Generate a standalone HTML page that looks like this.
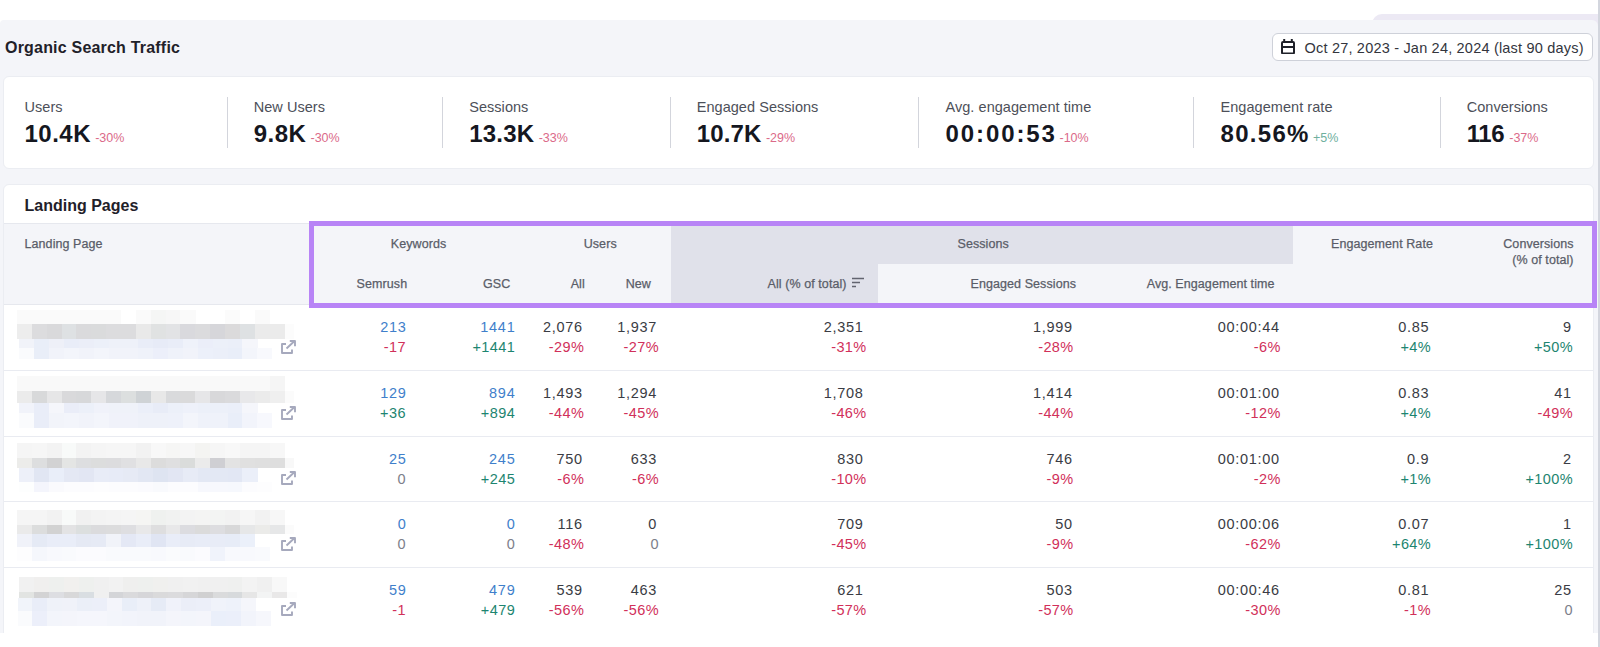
<!DOCTYPE html><html lang="en"><head><meta charset="utf-8"><title>Organic Search Traffic</title><style>
*{box-sizing:border-box;margin:0;padding:0}
html,body{width:1600px;height:647px;overflow:hidden;background:#fff}
body{position:relative;font-family:"Liberation Sans", sans-serif;color:#33353d;-webkit-font-smoothing:antialiased}
.abs{position:absolute;white-space:nowrap}
.panel{position:absolute;left:0;top:20px;width:1598px;height:613px;background:#f4f5f9;border-radius:4px 6px 0 0}
.tabband{position:absolute;left:1372px;top:14.4px;width:226px;height:14px;background:#ece9f4;border-radius:10px 0 0 0}
.strip{position:absolute;left:1598px;top:0;width:2px;height:647px;background:#d3d6de}
.title{left:5px;top:39px;font-size:16px;line-height:18px;font-weight:bold;color:#1f2129;letter-spacing:.2px}
.datebtn{position:absolute;left:1272px;top:33px;width:321px;height:28px;background:#fff;border:1px solid #ced1d9;border-radius:6px}
.datetxt{left:1304.5px;top:38px;font-size:14.5px;line-height:20px;color:#33353d;letter-spacing:.2px}
.card{position:absolute;left:3.4px;width:1591px;background:#fff;border:1px solid #ebedf2;border-radius:6px}
.kpi-l{font-size:14.5px;line-height:18px;color:#4d5059;letter-spacing:.05px}
.kpi-v{font-size:24px;line-height:28px;font-weight:bold;color:#15171f}
.kpi-d{font-size:12.5px;line-height:16px}
.red{color:#d1305a}
.kred{color:#db6a89}
.kgreen{color:#6fb09e}
.green{color:#1d8570}
.blue{color:#3f7fcb}
.vdiv{position:absolute;width:1px;top:97px;height:51px;background:#d3d5dc}
.h2{left:24.5px;top:197px;font-size:16px;line-height:18px;font-weight:bold;color:#1f2129}
.thead{position:absolute;left:4.4px;top:222.9px;width:1588.6px;height:81.8px;background:#f4f5f9;border-top:1px solid #e6e8ee;border-bottom:1px solid #e6e8ee}
.dark{position:absolute;background:#e0e1ea}
.th{font-size:12.5px;line-height:16px;color:#5a5d68;letter-spacing:.08px;-webkit-text-stroke:.25px #5a5d68}
.hl{position:absolute;left:308.9px;top:221.1px;width:1288.3px;height:87.2px;border:5px solid #b884f6;border-top-width:5.7px;border-bottom-width:5.3px}
.rowline{position:absolute;left:4.4px;width:1588.6px;height:1px;background:#e9ebf1}
.c{font-size:14.5px;line-height:20px;letter-spacing:.7px;text-align:right}
.num{color:#3a3c44}
.zero{color:#7d808b}
.px{position:absolute}
</style></head><body>
<div class="tabband"></div>
<div class="panel"></div>
<div class="strip"></div>
<div class="abs title">Organic Search Traffic</div>
<div class="datebtn"></div>
<svg class="px" style="left:1281px;top:38.5px" width="14" height="15.5" viewBox="0 0 14 15.5"><path d="M3.2 0v3M10.8 0v3" stroke="#1f2129" stroke-width="2" fill="none"/><rect x="1" y="3" width="12" height="11.5" rx="1" fill="none" stroke="#1f2129" stroke-width="2"/><path d="M1 8h12" stroke="#1f2129" stroke-width="2"/></svg>
<div class="abs datetxt">Oct 27, 2023 - Jan 24, 2024 (last 90 days)</div>
<div class="card" style="top:76px;height:93px"></div>
<div class="abs kpi-l" style="left:24.5px;top:97.5px">Users</div>
<div class="abs" style="left:24.5px;top:120.2px"><span class="kpi-v" style="letter-spacing:0.5px">10.4K</span><span class="kpi-d kred" style="margin-left:4.1px">-30%</span></div>
<div class="abs kpi-l" style="left:253.7px;top:97.5px">New Users</div>
<div class="abs" style="left:253.7px;top:120.2px"><span class="kpi-v" style="letter-spacing:0.5px">9.8K</span><span class="kpi-d kred" style="margin-left:4.1px">-30%</span></div>
<div class="abs kpi-l" style="left:469.2px;top:97.5px">Sessions</div>
<div class="abs" style="left:469.2px;top:120.2px"><span class="kpi-v" style="letter-spacing:0.2px">13.3K</span><span class="kpi-d kred" style="margin-left:4.3999999999999995px">-33%</span></div>
<div class="abs kpi-l" style="left:696.7px;top:97.5px">Engaged Sessions</div>
<div class="abs" style="left:696.7px;top:120.2px"><span class="kpi-v" style="letter-spacing:0.15px">10.7K</span><span class="kpi-d kred" style="margin-left:4.449999999999999px">-29%</span></div>
<div class="abs kpi-l" style="left:945.5px;top:97.5px">Avg. engagement time</div>
<div class="abs" style="left:945.5px;top:120.2px"><span class="kpi-v" style="letter-spacing:1.9px">00:00:53</span><span class="kpi-d kred" style="margin-left:2.6999999999999997px">-10%</span></div>
<div class="abs kpi-l" style="left:1220.5px;top:97.5px">Engagement rate</div>
<div class="abs" style="left:1220.5px;top:120.2px"><span class="kpi-v" style="letter-spacing:1.3px">80.56%</span><span class="kpi-d kgreen" style="margin-left:3.3px">+5%</span></div>
<div class="abs kpi-l" style="left:1466.7px;top:97.5px">Conversions</div>
<div class="abs" style="left:1466.7px;top:120.2px"><span class="kpi-v" style="letter-spacing:-0.4px">116</span><span class="kpi-d kred" style="margin-left:5.0px">-37%</span></div>
<div class="vdiv" style="left:227.0px"></div>
<div class="vdiv" style="left:442.0px"></div>
<div class="vdiv" style="left:670.2px"></div>
<div class="vdiv" style="left:918.2px"></div>
<div class="vdiv" style="left:1193.2px"></div>
<div class="vdiv" style="left:1440.2px"></div>
<div class="card" style="top:183.8px;height:470px;border-radius:6px 6px 0 0"></div>
<div class="abs h2">Landing Pages</div>
<div class="thead"></div>
<div class="dark" style="left:671.3px;top:224.5px;width:622px;height:39.8px"></div>
<div class="dark" style="left:671.3px;top:264px;width:206.7px;height:40px"></div>
<div class="abs th" style="left:24.5px;top:236.29999999999998px">Landing Page</div>
<div class="abs th" style="left:390.8px;top:236.29999999999998px">Keywords</div>
<div class="abs th" style="left:583.7px;top:236.29999999999998px">Users</div>
<div class="abs th" style="left:957.5px;top:236.29999999999998px">Sessions</div>
<div class="abs th" style="left:1331px;top:236.29999999999998px">Engagement Rate</div>
<div class="abs th" style="right:26.40000000000009px;top:236.29999999999998px;text-align:right">Conversions<br>(% of total)</div>
<div class="abs th" style="left:356.6px;top:276.20000000000005px">Semrush</div>
<div class="abs th" style="left:483px;top:276.20000000000005px">GSC</div>
<div class="abs th" style="left:570.7px;top:276.20000000000005px">All</div>
<div class="abs th" style="left:625.7px;top:276.20000000000005px">New</div>
<div class="abs th" style="left:767.5px;top:276.20000000000005px">All (% of total)</div>
<div class="abs th" style="left:970.5px;top:276.20000000000005px">Engaged Sessions</div>
<div class="abs th" style="left:1146.7px;top:276.20000000000005px">Avg. Engagement time</div>
<svg class="px" style="left:852px;top:277.3px" width="12" height="11" viewBox="0 0 12 11"><path d="M0 1.5h12M0 5.5h8M0 9.5h4" stroke="#62646f" stroke-width="1.6" fill="none"/></svg>
<div class="hl"></div>
<div class="abs c blue" style="right:1193.5px;top:317.45px">213</div>
<div class="abs c red" style="right:1194.1px;top:337.45px;letter-spacing:.4px">-17</div>
<div class="abs c blue" style="right:1084.6px;top:317.45px">1441</div>
<div class="abs c green" style="right:1084.8999999999999px;top:337.45px;letter-spacing:.4px">+1441</div>
<div class="abs c num" style="right:1017.1999999999999px;top:317.45px">2,076</div>
<div class="abs c red" style="right:1015.8000000000001px;top:337.45px;letter-spacing:.4px">-29%</div>
<div class="abs c num" style="right:942.9px;top:317.45px">1,937</div>
<div class="abs c red" style="right:941.0px;top:337.45px;letter-spacing:.4px">-27%</div>
<div class="abs c num" style="right:736.5px;top:317.45px">2,351</div>
<div class="abs c red" style="right:733.4px;top:337.45px;letter-spacing:.4px">-31%</div>
<div class="abs c num" style="right:527.3px;top:317.45px">1,999</div>
<div class="abs c red" style="right:526.4px;top:337.45px;letter-spacing:.4px">-28%</div>
<div class="abs c num" style="right:320.3px;top:317.45px">00:00:44</div>
<div class="abs c red" style="right:319.30000000000007px;top:337.45px;letter-spacing:.4px">-6%</div>
<div class="abs c num" style="right:170.8px;top:317.45px">0.85</div>
<div class="abs c green" style="right:168.89999999999995px;top:337.45px;letter-spacing:.4px">+4%</div>
<div class="abs c num" style="right:28.3px;top:317.45px">9</div>
<div class="abs c green" style="right:27.000000000000092px;top:337.45px;letter-spacing:.4px">+50%</div>
<svg class="px" style="left:281px;top:340px" width="15" height="14" viewBox="0 0 15 14"><path d="M5 4H1v9h10V9.5" fill="none" stroke="#a6a9bd" stroke-width="1.9" stroke-linejoin="round"/><path d="M5.5 8.5L13 1.5M8.8 1H14v5.3" fill="none" stroke="#a6a9bd" stroke-width="1.9" stroke-linejoin="round"/></svg>
<div class="rowline" style="top:370.0px"></div>
<div class="abs c blue" style="right:1193.5px;top:383.05px">129</div>
<div class="abs c green" style="right:1194.1px;top:403.05px;letter-spacing:.4px">+36</div>
<div class="abs c blue" style="right:1084.6px;top:383.05px">894</div>
<div class="abs c green" style="right:1084.8999999999999px;top:403.05px;letter-spacing:.4px">+894</div>
<div class="abs c num" style="right:1017.1999999999999px;top:383.05px">1,493</div>
<div class="abs c red" style="right:1015.8000000000001px;top:403.05px;letter-spacing:.4px">-44%</div>
<div class="abs c num" style="right:942.9px;top:383.05px">1,294</div>
<div class="abs c red" style="right:941.0px;top:403.05px;letter-spacing:.4px">-45%</div>
<div class="abs c num" style="right:736.5px;top:383.05px">1,708</div>
<div class="abs c red" style="right:733.4px;top:403.05px;letter-spacing:.4px">-46%</div>
<div class="abs c num" style="right:527.3px;top:383.05px">1,414</div>
<div class="abs c red" style="right:526.4px;top:403.05px;letter-spacing:.4px">-44%</div>
<div class="abs c num" style="right:320.3px;top:383.05px">00:01:00</div>
<div class="abs c red" style="right:319.30000000000007px;top:403.05px;letter-spacing:.4px">-12%</div>
<div class="abs c num" style="right:170.8px;top:383.05px">0.83</div>
<div class="abs c green" style="right:168.89999999999995px;top:403.05px;letter-spacing:.4px">+4%</div>
<div class="abs c num" style="right:28.3px;top:383.05px">41</div>
<div class="abs c red" style="right:27.000000000000092px;top:403.05px;letter-spacing:.4px">-49%</div>
<svg class="px" style="left:281px;top:405.5px" width="15" height="14" viewBox="0 0 15 14"><path d="M5 4H1v9h10V9.5" fill="none" stroke="#a6a9bd" stroke-width="1.9" stroke-linejoin="round"/><path d="M5.5 8.5L13 1.5M8.8 1H14v5.3" fill="none" stroke="#a6a9bd" stroke-width="1.9" stroke-linejoin="round"/></svg>
<div class="rowline" style="top:435.7px"></div>
<div class="abs c blue" style="right:1193.5px;top:448.7px">25</div>
<div class="abs c zero" style="right:1194.1px;top:468.7px;letter-spacing:.4px">0</div>
<div class="abs c blue" style="right:1084.6px;top:448.7px">245</div>
<div class="abs c green" style="right:1084.8999999999999px;top:468.7px;letter-spacing:.4px">+245</div>
<div class="abs c num" style="right:1017.1999999999999px;top:448.7px">750</div>
<div class="abs c red" style="right:1015.8000000000001px;top:468.7px;letter-spacing:.4px">-6%</div>
<div class="abs c num" style="right:942.9px;top:448.7px">633</div>
<div class="abs c red" style="right:941.0px;top:468.7px;letter-spacing:.4px">-6%</div>
<div class="abs c num" style="right:736.5px;top:448.7px">830</div>
<div class="abs c red" style="right:733.4px;top:468.7px;letter-spacing:.4px">-10%</div>
<div class="abs c num" style="right:527.3px;top:448.7px">746</div>
<div class="abs c red" style="right:526.4px;top:468.7px;letter-spacing:.4px">-9%</div>
<div class="abs c num" style="right:320.3px;top:448.7px">00:01:00</div>
<div class="abs c red" style="right:319.30000000000007px;top:468.7px;letter-spacing:.4px">-2%</div>
<div class="abs c num" style="right:170.8px;top:448.7px">0.9</div>
<div class="abs c green" style="right:168.89999999999995px;top:468.7px;letter-spacing:.4px">+1%</div>
<div class="abs c num" style="right:28.3px;top:448.7px">2</div>
<div class="abs c green" style="right:27.000000000000092px;top:468.7px;letter-spacing:.4px">+100%</div>
<svg class="px" style="left:281px;top:471.2px" width="15" height="14" viewBox="0 0 15 14"><path d="M5 4H1v9h10V9.5" fill="none" stroke="#a6a9bd" stroke-width="1.9" stroke-linejoin="round"/><path d="M5.5 8.5L13 1.5M8.8 1H14v5.3" fill="none" stroke="#a6a9bd" stroke-width="1.9" stroke-linejoin="round"/></svg>
<div class="rowline" style="top:501.3px"></div>
<div class="abs c blue" style="right:1193.5px;top:514.3000000000001px">0</div>
<div class="abs c zero" style="right:1194.1px;top:534.3000000000001px;letter-spacing:.4px">0</div>
<div class="abs c blue" style="right:1084.6px;top:514.3000000000001px">0</div>
<div class="abs c zero" style="right:1084.8999999999999px;top:534.3000000000001px;letter-spacing:.4px">0</div>
<div class="abs c num" style="right:1017.1999999999999px;top:514.3000000000001px">116</div>
<div class="abs c red" style="right:1015.8000000000001px;top:534.3000000000001px;letter-spacing:.4px">-48%</div>
<div class="abs c num" style="right:942.9px;top:514.3000000000001px">0</div>
<div class="abs c zero" style="right:941.0px;top:534.3000000000001px;letter-spacing:.4px">0</div>
<div class="abs c num" style="right:736.5px;top:514.3000000000001px">709</div>
<div class="abs c red" style="right:733.4px;top:534.3000000000001px;letter-spacing:.4px">-45%</div>
<div class="abs c num" style="right:527.3px;top:514.3000000000001px">50</div>
<div class="abs c red" style="right:526.4px;top:534.3000000000001px;letter-spacing:.4px">-9%</div>
<div class="abs c num" style="right:320.3px;top:514.3000000000001px">00:00:06</div>
<div class="abs c red" style="right:319.30000000000007px;top:534.3000000000001px;letter-spacing:.4px">-62%</div>
<div class="abs c num" style="right:170.8px;top:514.3000000000001px">0.07</div>
<div class="abs c green" style="right:168.89999999999995px;top:534.3000000000001px;letter-spacing:.4px">+64%</div>
<div class="abs c num" style="right:28.3px;top:514.3000000000001px">1</div>
<div class="abs c green" style="right:27.000000000000092px;top:534.3000000000001px;letter-spacing:.4px">+100%</div>
<svg class="px" style="left:281px;top:536.8px" width="15" height="14" viewBox="0 0 15 14"><path d="M5 4H1v9h10V9.5" fill="none" stroke="#a6a9bd" stroke-width="1.9" stroke-linejoin="round"/><path d="M5.5 8.5L13 1.5M8.8 1H14v5.3" fill="none" stroke="#a6a9bd" stroke-width="1.9" stroke-linejoin="round"/></svg>
<div class="rowline" style="top:566.9px"></div>
<div class="abs c blue" style="right:1193.5px;top:579.9000000000001px">59</div>
<div class="abs c red" style="right:1194.1px;top:599.9000000000001px;letter-spacing:.4px">-1</div>
<div class="abs c blue" style="right:1084.6px;top:579.9000000000001px">479</div>
<div class="abs c green" style="right:1084.8999999999999px;top:599.9000000000001px;letter-spacing:.4px">+479</div>
<div class="abs c num" style="right:1017.1999999999999px;top:579.9000000000001px">539</div>
<div class="abs c red" style="right:1015.8000000000001px;top:599.9000000000001px;letter-spacing:.4px">-56%</div>
<div class="abs c num" style="right:942.9px;top:579.9000000000001px">463</div>
<div class="abs c red" style="right:941.0px;top:599.9000000000001px;letter-spacing:.4px">-56%</div>
<div class="abs c num" style="right:736.5px;top:579.9000000000001px">621</div>
<div class="abs c red" style="right:733.4px;top:599.9000000000001px;letter-spacing:.4px">-57%</div>
<div class="abs c num" style="right:527.3px;top:579.9000000000001px">503</div>
<div class="abs c red" style="right:526.4px;top:599.9000000000001px;letter-spacing:.4px">-57%</div>
<div class="abs c num" style="right:320.3px;top:579.9000000000001px">00:00:46</div>
<div class="abs c red" style="right:319.30000000000007px;top:599.9000000000001px;letter-spacing:.4px">-30%</div>
<div class="abs c num" style="right:170.8px;top:579.9000000000001px">0.81</div>
<div class="abs c red" style="right:168.89999999999995px;top:599.9000000000001px;letter-spacing:.4px">-1%</div>
<div class="abs c num" style="right:28.3px;top:579.9000000000001px">25</div>
<div class="abs c zero" style="right:27.000000000000092px;top:599.9000000000001px;letter-spacing:.4px">0</div>
<svg class="px" style="left:281px;top:602.4px" width="15" height="14" viewBox="0 0 15 14"><path d="M5 4H1v9h10V9.5" fill="none" stroke="#a6a9bd" stroke-width="1.9" stroke-linejoin="round"/><path d="M5.5 8.5L13 1.5M8.8 1H14v5.3" fill="none" stroke="#a6a9bd" stroke-width="1.9" stroke-linejoin="round"/></svg>
<style>.mos i{position:absolute;display:block}</style>
<div class="mos"><i style="left:16.90px;top:309.5px;width:15.17px;height:14.7px;background:#fafafa"></i><i style="left:31.77px;top:309.5px;width:15.17px;height:14.7px;background:#fafafa"></i><i style="left:46.64px;top:309.5px;width:15.17px;height:14.7px;background:#fafafa"></i><i style="left:61.51px;top:309.5px;width:15.17px;height:14.7px;background:#fafafa"></i><i style="left:76.38px;top:309.5px;width:15.17px;height:14.7px;background:#fafafa"></i><i style="left:91.25px;top:309.5px;width:15.17px;height:14.7px;background:#fafafa"></i><i style="left:106.12px;top:309.5px;width:15.17px;height:14.7px;background:#fafafa"></i><i style="left:135.86px;top:309.5px;width:15.17px;height:14.7px;background:#fafafa"></i><i style="left:150.73px;top:309.5px;width:15.17px;height:14.7px;background:#f5f6f5"></i><i style="left:165.60px;top:309.5px;width:15.17px;height:14.7px;background:#f7f7f7"></i><i style="left:180.47px;top:309.5px;width:15.17px;height:14.7px;background:#fafafa"></i><i style="left:225.08px;top:309.5px;width:15.17px;height:14.7px;background:#fbfbfb"></i><i style="left:254.82px;top:309.5px;width:15.17px;height:14.7px;background:#fafafa"></i><i style="left:16.90px;top:324px;width:15.17px;height:15px;background:#ededed"></i><i style="left:31.77px;top:324px;width:15.17px;height:15px;background:#dcdcde"></i><i style="left:46.64px;top:324px;width:15.17px;height:15px;background:#d9d9db"></i><i style="left:61.51px;top:324px;width:15.17px;height:15px;background:#dee1e3"></i><i style="left:76.38px;top:324px;width:15.17px;height:15px;background:#dadadc"></i><i style="left:91.25px;top:324px;width:15.17px;height:15px;background:#dadbdc"></i><i style="left:106.12px;top:324px;width:15.17px;height:15px;background:#dcdcde"></i><i style="left:120.99px;top:324px;width:15.17px;height:15px;background:#dcdcde"></i><i style="left:135.86px;top:324px;width:15.17px;height:15px;background:#e9e9e9"></i><i style="left:150.73px;top:324px;width:15.17px;height:15px;background:#e0e2e2"></i><i style="left:165.60px;top:324px;width:15.17px;height:15px;background:#e2e3e5"></i><i style="left:180.47px;top:324px;width:15.17px;height:15px;background:#d9d9dd"></i><i style="left:195.34px;top:324px;width:15.17px;height:15px;background:#dbdbdd"></i><i style="left:210.21px;top:324px;width:15.17px;height:15px;background:#d6d6da"></i><i style="left:225.08px;top:324px;width:15.17px;height:15px;background:#dbdadb"></i><i style="left:239.95px;top:324px;width:15.17px;height:15px;background:#dee1e3"></i><i style="left:254.82px;top:324px;width:15.17px;height:15px;background:#ebebeb"></i><i style="left:269.69px;top:324px;width:15.17px;height:15px;background:#ebebeb"></i><i style="left:284.56px;top:324px;width:9.50px;height:15px;background:#fcfcfc"></i><i style="left:19.40px;top:338.9px;width:15.17px;height:9.4px;background:#f1f3f9"></i><i style="left:34.27px;top:338.9px;width:15.17px;height:9.4px;background:#e9eef8"></i><i style="left:49.14px;top:338.9px;width:15.17px;height:9.4px;background:#eef0f8"></i><i style="left:64.01px;top:338.9px;width:15.17px;height:9.4px;background:#e9edf8"></i><i style="left:78.88px;top:338.9px;width:15.17px;height:9.4px;background:#ebeef8"></i><i style="left:93.75px;top:338.9px;width:15.17px;height:9.4px;background:#ecf0f9"></i><i style="left:108.62px;top:338.9px;width:15.17px;height:9.4px;background:#eef1f9"></i><i style="left:123.49px;top:338.9px;width:15.17px;height:9.4px;background:#eef1f9"></i><i style="left:138.36px;top:338.9px;width:15.17px;height:9.4px;background:#e9edf8"></i><i style="left:153.23px;top:338.9px;width:15.17px;height:9.4px;background:#e7ebf7"></i><i style="left:168.10px;top:338.9px;width:15.17px;height:9.4px;background:#e9edf8"></i><i style="left:182.97px;top:338.9px;width:15.17px;height:9.4px;background:#eff2fa"></i><i style="left:197.84px;top:338.9px;width:15.17px;height:9.4px;background:#ebeef9"></i><i style="left:212.71px;top:338.9px;width:15.17px;height:9.4px;background:#ecf0f9"></i><i style="left:227.58px;top:338.9px;width:15.17px;height:9.4px;background:#ebeff9"></i><i style="left:242.45px;top:338.9px;width:15.17px;height:9.4px;background:#f5f6fb"></i><i style="left:19.40px;top:348.1px;width:15.17px;height:11.3px;background:#fafbfd"></i><i style="left:34.27px;top:348.1px;width:15.17px;height:11.3px;background:#e9eef8"></i><i style="left:49.14px;top:348.1px;width:15.17px;height:11.3px;background:#f1f3fa"></i><i style="left:64.01px;top:348.1px;width:15.17px;height:11.3px;background:#f3f5fb"></i><i style="left:78.88px;top:348.1px;width:15.17px;height:11.3px;background:#f1f3fa"></i><i style="left:93.75px;top:348.1px;width:15.17px;height:11.3px;background:#f3f5fb"></i><i style="left:108.62px;top:348.1px;width:15.17px;height:11.3px;background:#f1f3fa"></i><i style="left:123.49px;top:348.1px;width:15.17px;height:11.3px;background:#f1f3fa"></i><i style="left:138.36px;top:348.1px;width:15.17px;height:11.3px;background:#eff2fa"></i><i style="left:153.23px;top:348.1px;width:15.17px;height:11.3px;background:#eceffa"></i><i style="left:168.10px;top:348.1px;width:15.17px;height:11.3px;background:#eff2fa"></i><i style="left:182.97px;top:348.1px;width:15.17px;height:11.3px;background:#f1f3fa"></i><i style="left:197.84px;top:348.1px;width:15.17px;height:11.3px;background:#ecf0fa"></i><i style="left:212.71px;top:348.1px;width:15.17px;height:11.3px;background:#ebeff9"></i><i style="left:227.58px;top:348.1px;width:15.17px;height:11.3px;background:#e9eef9"></i><i style="left:242.45px;top:348.1px;width:15.17px;height:11.3px;background:#f3f5fb"></i><i style="left:257.32px;top:348.1px;width:15.17px;height:11.3px;background:#f8f9fd"></i><i style="left:16.90px;top:376px;width:15.17px;height:14.9px;background:#f9f9f9"></i><i style="left:31.77px;top:376px;width:15.17px;height:14.9px;background:#f9f9f9"></i><i style="left:46.64px;top:376px;width:15.17px;height:14.9px;background:#f9f9f9"></i><i style="left:61.51px;top:376px;width:15.17px;height:14.9px;background:#f9f9f9"></i><i style="left:76.38px;top:376px;width:15.17px;height:14.9px;background:#f9f9f9"></i><i style="left:91.25px;top:376px;width:15.17px;height:14.9px;background:#f9f9f9"></i><i style="left:106.12px;top:376px;width:15.17px;height:14.9px;background:#f9f9f9"></i><i style="left:120.99px;top:376px;width:15.17px;height:14.9px;background:#f9f9f9"></i><i style="left:135.86px;top:376px;width:15.17px;height:14.9px;background:#f9f9f9"></i><i style="left:150.73px;top:376px;width:15.17px;height:14.9px;background:#f9f9f9"></i><i style="left:165.60px;top:376px;width:15.17px;height:14.9px;background:#f9f9f9"></i><i style="left:180.47px;top:376px;width:15.17px;height:14.9px;background:#f9f9f9"></i><i style="left:195.34px;top:376px;width:15.17px;height:14.9px;background:#f9f9f9"></i><i style="left:210.21px;top:376px;width:15.17px;height:14.9px;background:#f9f9f9"></i><i style="left:225.08px;top:376px;width:15.17px;height:14.9px;background:#f9f9f9"></i><i style="left:239.95px;top:376px;width:15.17px;height:14.9px;background:#f9f9f9"></i><i style="left:254.82px;top:376px;width:15.17px;height:14.9px;background:#f9f9f9"></i><i style="left:269.69px;top:376px;width:15.17px;height:14.9px;background:#f5f5f5"></i><i style="left:16.90px;top:390.8px;width:15.17px;height:12.5px;background:#ebebeb"></i><i style="left:31.77px;top:390.8px;width:15.17px;height:12.5px;background:#d8d9da"></i><i style="left:46.64px;top:390.8px;width:15.17px;height:12.5px;background:#e6e6e7"></i><i style="left:61.51px;top:390.8px;width:15.17px;height:12.5px;background:#d9d9db"></i><i style="left:76.38px;top:390.8px;width:15.17px;height:12.5px;background:#d7d8da"></i><i style="left:91.25px;top:390.8px;width:15.17px;height:12.5px;background:#e6e6e8"></i><i style="left:106.12px;top:390.8px;width:15.17px;height:12.5px;background:#d6d8db"></i><i style="left:120.99px;top:390.8px;width:15.17px;height:12.5px;background:#dcdfdf"></i><i style="left:135.86px;top:390.8px;width:15.17px;height:12.5px;background:#cfd3d6"></i><i style="left:150.73px;top:390.8px;width:15.17px;height:12.5px;background:#e8e8e8"></i><i style="left:165.60px;top:390.8px;width:15.17px;height:12.5px;background:#d9dadc"></i><i style="left:180.47px;top:390.8px;width:15.17px;height:12.5px;background:#dadadb"></i><i style="left:195.34px;top:390.8px;width:15.17px;height:12.5px;background:#e6e6e8"></i><i style="left:210.21px;top:390.8px;width:15.17px;height:12.5px;background:#d8d8da"></i><i style="left:225.08px;top:390.8px;width:15.17px;height:12.5px;background:#dadadc"></i><i style="left:239.95px;top:390.8px;width:15.17px;height:12.5px;background:#e8e8ea"></i><i style="left:254.82px;top:390.8px;width:15.17px;height:12.5px;background:#ebebeb"></i><i style="left:269.69px;top:390.8px;width:15.17px;height:12.5px;background:#efefef"></i><i style="left:284.56px;top:390.8px;width:9.50px;height:12.5px;background:#fbfbfb"></i><i style="left:19.40px;top:403.2px;width:15.17px;height:10px;background:#f1f3fa"></i><i style="left:34.27px;top:403.2px;width:15.17px;height:10px;background:#e9edf8"></i><i style="left:49.14px;top:403.2px;width:15.17px;height:10px;background:#f5f6fb"></i><i style="left:64.01px;top:403.2px;width:15.17px;height:10px;background:#eaedf8"></i><i style="left:78.88px;top:403.2px;width:15.17px;height:10px;background:#ecf0f9"></i><i style="left:93.75px;top:403.2px;width:15.17px;height:10px;background:#f0f2fa"></i><i style="left:108.62px;top:403.2px;width:15.17px;height:10px;background:#eff2f9"></i><i style="left:123.49px;top:403.2px;width:15.17px;height:10px;background:#eff2f9"></i><i style="left:138.36px;top:403.2px;width:15.17px;height:10px;background:#ebeff9"></i><i style="left:153.23px;top:403.2px;width:15.17px;height:10px;background:#e8ecf7"></i><i style="left:168.10px;top:403.2px;width:15.17px;height:10px;background:#ecf0f9"></i><i style="left:182.97px;top:403.2px;width:15.17px;height:10px;background:#eef1fa"></i><i style="left:197.84px;top:403.2px;width:15.17px;height:10px;background:#ecf0f9"></i><i style="left:212.71px;top:403.2px;width:15.17px;height:10px;background:#ecf0f9"></i><i style="left:227.58px;top:403.2px;width:15.17px;height:10px;background:#ebeff9"></i><i style="left:242.45px;top:403.2px;width:15.17px;height:10px;background:#f5f6fb"></i><i style="left:19.40px;top:413.1px;width:15.17px;height:15px;background:#fafbfd"></i><i style="left:34.27px;top:413.1px;width:15.17px;height:15px;background:#e9edf8"></i><i style="left:49.14px;top:413.1px;width:15.17px;height:15px;background:#f2f4fa"></i><i style="left:64.01px;top:413.1px;width:15.17px;height:15px;background:#f3f5fb"></i><i style="left:78.88px;top:413.1px;width:15.17px;height:15px;background:#f1f3fa"></i><i style="left:93.75px;top:413.1px;width:15.17px;height:15px;background:#f3f5fb"></i><i style="left:108.62px;top:413.1px;width:15.17px;height:15px;background:#f0f2fa"></i><i style="left:123.49px;top:413.1px;width:15.17px;height:15px;background:#f0f2fa"></i><i style="left:138.36px;top:413.1px;width:15.17px;height:15px;background:#eef1f9"></i><i style="left:153.23px;top:413.1px;width:15.17px;height:15px;background:#eef1f9"></i><i style="left:168.10px;top:413.1px;width:15.17px;height:15px;background:#eef1fa"></i><i style="left:182.97px;top:413.1px;width:15.17px;height:15px;background:#f3f5fb"></i><i style="left:197.84px;top:413.1px;width:15.17px;height:15px;background:#eff2fa"></i><i style="left:212.71px;top:413.1px;width:15.17px;height:15px;background:#eff2fa"></i><i style="left:227.58px;top:413.1px;width:15.17px;height:15px;background:#e9eef9"></i><i style="left:242.45px;top:413.1px;width:15.17px;height:15px;background:#f2f4fb"></i><i style="left:257.32px;top:413.1px;width:15.17px;height:15px;background:#f7f8fd"></i><i style="left:16.90px;top:442.9px;width:15.17px;height:15px;background:#f5f5f5"></i><i style="left:31.77px;top:442.9px;width:15.17px;height:15px;background:#f6f6f6"></i><i style="left:46.64px;top:442.9px;width:15.17px;height:15px;background:#f3f3f3"></i><i style="left:61.51px;top:442.9px;width:15.17px;height:15px;background:#f8faf9"></i><i style="left:76.38px;top:442.9px;width:15.17px;height:15px;background:#f3f3f3"></i><i style="left:91.25px;top:442.9px;width:15.17px;height:15px;background:#f5f5f5"></i><i style="left:106.12px;top:442.9px;width:15.17px;height:15px;background:#f6f6f6"></i><i style="left:120.99px;top:442.9px;width:15.17px;height:15px;background:#f6f6f6"></i><i style="left:135.86px;top:442.9px;width:15.17px;height:15px;background:#f2f2f2"></i><i style="left:150.73px;top:442.9px;width:15.17px;height:15px;background:#f8f8f8"></i><i style="left:165.60px;top:442.9px;width:15.17px;height:15px;background:#f6f6f5"></i><i style="left:180.47px;top:442.9px;width:15.17px;height:15px;background:#f7f7f7"></i><i style="left:195.34px;top:442.9px;width:15.17px;height:15px;background:#f4f4f2"></i><i style="left:210.21px;top:442.9px;width:15.17px;height:15px;background:#f6f6f6"></i><i style="left:225.08px;top:442.9px;width:15.17px;height:15px;background:#f8f8f8"></i><i style="left:239.95px;top:442.9px;width:15.17px;height:15px;background:#f5f5f5"></i><i style="left:254.82px;top:442.9px;width:15.17px;height:15px;background:#f5f5f5"></i><i style="left:269.69px;top:442.9px;width:15.17px;height:15px;background:#f7f7f7"></i><i style="left:16.90px;top:457.8px;width:15.17px;height:10.3px;background:#ececea"></i><i style="left:31.77px;top:457.8px;width:15.17px;height:10.3px;background:#dddedf"></i><i style="left:46.64px;top:457.8px;width:15.17px;height:10.3px;background:#d2d2d3"></i><i style="left:61.51px;top:457.8px;width:15.17px;height:10.3px;background:#e4e5e4"></i><i style="left:76.38px;top:457.8px;width:15.17px;height:10.3px;background:#dddee0"></i><i style="left:91.25px;top:457.8px;width:15.17px;height:10.3px;background:#dcdddd"></i><i style="left:106.12px;top:457.8px;width:15.17px;height:10.3px;background:#dcdcde"></i><i style="left:120.99px;top:457.8px;width:15.17px;height:10.3px;background:#e0e0e2"></i><i style="left:135.86px;top:457.8px;width:15.17px;height:10.3px;background:#e8e8e8"></i><i style="left:150.73px;top:457.8px;width:15.17px;height:10.3px;background:#dcdcdc"></i><i style="left:165.60px;top:457.8px;width:15.17px;height:10.3px;background:#dfdfe0"></i><i style="left:180.47px;top:457.8px;width:15.17px;height:10.3px;background:#dadcdb"></i><i style="left:195.34px;top:457.8px;width:15.17px;height:10.3px;background:#ebebeb"></i><i style="left:210.21px;top:457.8px;width:15.17px;height:10.3px;background:#cfcfd3"></i><i style="left:225.08px;top:457.8px;width:15.17px;height:10.3px;background:#e3e3e3"></i><i style="left:239.95px;top:457.8px;width:15.17px;height:10.3px;background:#e0e0e0"></i><i style="left:254.82px;top:457.8px;width:15.17px;height:10.3px;background:#dfdfdf"></i><i style="left:269.69px;top:457.8px;width:15.17px;height:10.3px;background:#dedede"></i><i style="left:284.56px;top:457.8px;width:9.50px;height:10.3px;background:#f8f8f8"></i><i style="left:19.40px;top:468px;width:15.17px;height:14px;background:#edf0f9"></i><i style="left:34.27px;top:468px;width:15.17px;height:14px;background:#e1e6f3"></i><i style="left:49.14px;top:468px;width:15.17px;height:14px;background:#e9eef9"></i><i style="left:64.01px;top:468px;width:15.17px;height:14px;background:#e4e8f4"></i><i style="left:78.88px;top:468px;width:15.17px;height:14px;background:#e2e6f3"></i><i style="left:93.75px;top:468px;width:15.17px;height:14px;background:#e8ecf7"></i><i style="left:108.62px;top:468px;width:15.17px;height:14px;background:#e7ebf7"></i><i style="left:123.49px;top:468px;width:15.17px;height:14px;background:#e6eaf5"></i><i style="left:138.36px;top:468px;width:15.17px;height:14px;background:#e2e7f3"></i><i style="left:153.23px;top:468px;width:15.17px;height:14px;background:#dee4f1"></i><i style="left:168.10px;top:468px;width:15.17px;height:14px;background:#e2e6f3"></i><i style="left:182.97px;top:468px;width:15.17px;height:14px;background:#e7ebf6"></i><i style="left:197.84px;top:468px;width:15.17px;height:14px;background:#e3e8f4"></i><i style="left:212.71px;top:468px;width:15.17px;height:14px;background:#e3e8f4"></i><i style="left:227.58px;top:468px;width:15.17px;height:14px;background:#e2e7f4"></i><i style="left:242.45px;top:468px;width:15.17px;height:14px;background:#ebeff9"></i><i style="left:19.40px;top:481.9px;width:15.17px;height:10.3px;background:#fdfefe"></i><i style="left:34.27px;top:481.9px;width:15.17px;height:10.3px;background:#f4f5fc"></i><i style="left:49.14px;top:481.9px;width:15.17px;height:10.3px;background:#fafafd"></i><i style="left:64.01px;top:481.9px;width:15.17px;height:10.3px;background:#fcfcfe"></i><i style="left:78.88px;top:481.9px;width:15.17px;height:10.3px;background:#fcfcfe"></i><i style="left:93.75px;top:481.9px;width:15.17px;height:10.3px;background:#fdfdfe"></i><i style="left:108.62px;top:481.9px;width:15.17px;height:10.3px;background:#fcfcfe"></i><i style="left:123.49px;top:481.9px;width:15.17px;height:10.3px;background:#fcfcfe"></i><i style="left:138.36px;top:481.9px;width:15.17px;height:10.3px;background:#fbfbfe"></i><i style="left:153.23px;top:481.9px;width:15.17px;height:10.3px;background:#f9fafd"></i><i style="left:168.10px;top:481.9px;width:15.17px;height:10.3px;background:#fcfcfe"></i><i style="left:182.97px;top:481.9px;width:15.17px;height:10.3px;background:#fcfcfe"></i><i style="left:197.84px;top:481.9px;width:15.17px;height:10.3px;background:#f7f8fd"></i><i style="left:212.71px;top:481.9px;width:15.17px;height:10.3px;background:#f7f8fd"></i><i style="left:227.58px;top:481.9px;width:15.17px;height:10.3px;background:#f6f8fd"></i><i style="left:242.45px;top:481.9px;width:15.17px;height:10.3px;background:#fcfcfe"></i><i style="left:257.32px;top:481.9px;width:15.17px;height:10.3px;background:#fdfdfe"></i><i style="left:16.90px;top:509.8px;width:15.17px;height:15px;background:#f5f5f5"></i><i style="left:31.77px;top:509.8px;width:15.17px;height:15px;background:#f5f5f5"></i><i style="left:46.64px;top:509.8px;width:15.17px;height:15px;background:#f2f2f2"></i><i style="left:61.51px;top:509.8px;width:15.17px;height:15px;background:#f8faf9"></i><i style="left:76.38px;top:509.8px;width:15.17px;height:15px;background:#f1f1f1"></i><i style="left:91.25px;top:509.8px;width:15.17px;height:15px;background:#f3f3f3"></i><i style="left:106.12px;top:509.8px;width:15.17px;height:15px;background:#f4f4f4"></i><i style="left:120.99px;top:509.8px;width:15.17px;height:15px;background:#f5f5f5"></i><i style="left:135.86px;top:509.8px;width:15.17px;height:15px;background:#f5f5f3"></i><i style="left:150.73px;top:509.8px;width:15.17px;height:15px;background:#eff1ef"></i><i style="left:165.60px;top:509.8px;width:15.17px;height:15px;background:#f1f2f1"></i><i style="left:180.47px;top:509.8px;width:15.17px;height:15px;background:#f3f3f3"></i><i style="left:195.34px;top:509.8px;width:15.17px;height:15px;background:#f4f4f3"></i><i style="left:210.21px;top:509.8px;width:15.17px;height:15px;background:#f3f4f3"></i><i style="left:225.08px;top:509.8px;width:15.17px;height:15px;background:#f2f2f2"></i><i style="left:239.95px;top:509.8px;width:15.17px;height:15px;background:#f6f6f6"></i><i style="left:254.82px;top:509.8px;width:15.17px;height:15px;background:#f2f2f2"></i><i style="left:269.69px;top:509.8px;width:15.17px;height:15px;background:#f7f7f7"></i><i style="left:16.90px;top:524.7px;width:15.17px;height:9.1px;background:#eaeaea"></i><i style="left:31.77px;top:524.7px;width:15.17px;height:9.1px;background:#dcdddd"></i><i style="left:46.64px;top:524.7px;width:15.17px;height:9.1px;background:#d2d2d2"></i><i style="left:61.51px;top:524.7px;width:15.17px;height:9.1px;background:#e3e3e4"></i><i style="left:76.38px;top:524.7px;width:15.17px;height:9.1px;background:#dcdfdf"></i><i style="left:91.25px;top:524.7px;width:15.17px;height:9.1px;background:#dbdbdd"></i><i style="left:106.12px;top:524.7px;width:15.17px;height:9.1px;background:#dcdcdd"></i><i style="left:120.99px;top:524.7px;width:15.17px;height:9.1px;background:#dedee1"></i><i style="left:135.86px;top:524.7px;width:15.17px;height:9.1px;background:#e8e8e9"></i><i style="left:150.73px;top:524.7px;width:15.17px;height:9.1px;background:#dededf"></i><i style="left:165.60px;top:524.7px;width:15.17px;height:9.1px;background:#e8e8e9"></i><i style="left:180.47px;top:524.7px;width:15.17px;height:9.1px;background:#dcdce0"></i><i style="left:195.34px;top:524.7px;width:15.17px;height:9.1px;background:#dbdbdb"></i><i style="left:210.21px;top:524.7px;width:15.17px;height:9.1px;background:#dddde0"></i><i style="left:225.08px;top:524.7px;width:15.17px;height:9.1px;background:#d8d8d9"></i><i style="left:239.95px;top:524.7px;width:15.17px;height:9.1px;background:#e6e7e8"></i><i style="left:254.82px;top:524.7px;width:15.17px;height:9.1px;background:#ebebe9"></i><i style="left:269.69px;top:524.7px;width:15.17px;height:9.1px;background:#e6e7e8"></i><i style="left:284.56px;top:524.7px;width:9.50px;height:9.1px;background:#fbfbfb"></i><i style="left:16.90px;top:533.7px;width:15.17px;height:13.2px;background:#f0f2f9"></i><i style="left:31.77px;top:533.7px;width:15.17px;height:13.2px;background:#e5eaf5"></i><i style="left:46.64px;top:533.7px;width:15.17px;height:13.2px;background:#e9edf8"></i><i style="left:61.51px;top:533.7px;width:15.17px;height:13.2px;background:#e9edf8"></i><i style="left:76.38px;top:533.7px;width:15.17px;height:13.2px;background:#e5e9f4"></i><i style="left:91.25px;top:533.7px;width:15.17px;height:13.2px;background:#e6eaf5"></i><i style="left:106.12px;top:533.7px;width:15.17px;height:13.2px;background:#f1f3f9"></i><i style="left:120.99px;top:533.7px;width:15.17px;height:13.2px;background:#e4e8f5"></i><i style="left:135.86px;top:533.7px;width:15.17px;height:13.2px;background:#e9edf8"></i><i style="left:150.73px;top:533.7px;width:15.17px;height:13.2px;background:#e0e5f3"></i><i style="left:165.60px;top:533.7px;width:15.17px;height:13.2px;background:#e9edf8"></i><i style="left:180.47px;top:533.7px;width:15.17px;height:13.2px;background:#e7ebf6"></i><i style="left:195.34px;top:533.7px;width:15.17px;height:13.2px;background:#e8ecf7"></i><i style="left:210.21px;top:533.7px;width:15.17px;height:13.2px;background:#e8ecf7"></i><i style="left:225.08px;top:533.7px;width:15.17px;height:13.2px;background:#e7ecf7"></i><i style="left:239.95px;top:533.7px;width:15.17px;height:13.2px;background:#ebf0fa"></i><i style="left:16.90px;top:546.8px;width:15.17px;height:14.7px;background:#fdfdfe"></i><i style="left:31.77px;top:546.8px;width:15.17px;height:14.7px;background:#f5f7fc"></i><i style="left:46.64px;top:546.8px;width:15.17px;height:14.7px;background:#f8f9fd"></i><i style="left:61.51px;top:546.8px;width:15.17px;height:14.7px;background:#f9fafd"></i><i style="left:76.38px;top:546.8px;width:15.17px;height:14.7px;background:#fbfbfe"></i><i style="left:91.25px;top:546.8px;width:15.17px;height:14.7px;background:#fbfbfe"></i><i style="left:106.12px;top:546.8px;width:15.17px;height:14.7px;background:#f9fafd"></i><i style="left:120.99px;top:546.8px;width:15.17px;height:14.7px;background:#f9fafd"></i><i style="left:135.86px;top:546.8px;width:15.17px;height:14.7px;background:#f9fafd"></i><i style="left:150.73px;top:546.8px;width:15.17px;height:14.7px;background:#f8f9fd"></i><i style="left:165.60px;top:546.8px;width:15.17px;height:14.7px;background:#fafbfd"></i><i style="left:180.47px;top:546.8px;width:15.17px;height:14.7px;background:#f9fafd"></i><i style="left:195.34px;top:546.8px;width:15.17px;height:14.7px;background:#fbfbfe"></i><i style="left:210.21px;top:546.8px;width:15.17px;height:14.7px;background:#f0f3fb"></i><i style="left:225.08px;top:546.8px;width:15.17px;height:14.7px;background:#f8f9fd"></i><i style="left:239.95px;top:546.8px;width:15.17px;height:14.7px;background:#f8f9fd"></i><i style="left:254.82px;top:546.8px;width:15.17px;height:14.7px;background:#f9fafd"></i><i style="left:19.40px;top:576.5px;width:15.17px;height:15.2px;background:#f1f1f1"></i><i style="left:34.27px;top:576.5px;width:15.17px;height:15.2px;background:#f0efee"></i><i style="left:49.14px;top:576.5px;width:15.17px;height:15.2px;background:#eef0ee"></i><i style="left:64.01px;top:576.5px;width:15.17px;height:15.2px;background:#f1f0ee"></i><i style="left:78.88px;top:576.5px;width:15.17px;height:15.2px;background:#eef0ee"></i><i style="left:93.75px;top:576.5px;width:15.17px;height:15.2px;background:#f0f0f0"></i><i style="left:108.62px;top:576.5px;width:15.17px;height:15.2px;background:#f2f2f2"></i><i style="left:123.49px;top:576.5px;width:15.17px;height:15.2px;background:#efefee"></i><i style="left:138.36px;top:576.5px;width:15.17px;height:15.2px;background:#eef0ee"></i><i style="left:153.23px;top:576.5px;width:15.17px;height:15.2px;background:#f0f0ee"></i><i style="left:168.10px;top:576.5px;width:15.17px;height:15.2px;background:#f0f0f0"></i><i style="left:182.97px;top:576.5px;width:15.17px;height:15.2px;background:#f1f1f1"></i><i style="left:197.84px;top:576.5px;width:15.17px;height:15.2px;background:#f0f0f0"></i><i style="left:212.71px;top:576.5px;width:15.17px;height:15.2px;background:#f0f0f0"></i><i style="left:227.58px;top:576.5px;width:15.17px;height:15.2px;background:#eff0ef"></i><i style="left:242.45px;top:576.5px;width:15.17px;height:15.2px;background:#f3f3f3"></i><i style="left:257.32px;top:576.5px;width:15.17px;height:15.2px;background:#f0f0f0"></i><i style="left:272.19px;top:576.5px;width:15.17px;height:15.2px;background:#f8f8f8"></i><i style="left:19.40px;top:591.6px;width:15.17px;height:6.4px;background:#e2e4e2"></i><i style="left:34.27px;top:591.6px;width:15.17px;height:6.4px;background:#d3d3d4"></i><i style="left:49.14px;top:591.6px;width:15.17px;height:6.4px;background:#dddee2"></i><i style="left:64.01px;top:591.6px;width:15.17px;height:6.4px;background:#d8d8d9"></i><i style="left:78.88px;top:591.6px;width:15.17px;height:6.4px;background:#d9dee2"></i><i style="left:93.75px;top:591.6px;width:15.17px;height:6.4px;background:#f0f0f0"></i><i style="left:108.62px;top:591.6px;width:15.17px;height:6.4px;background:#d4d5d8"></i><i style="left:123.49px;top:591.6px;width:15.17px;height:6.4px;background:#dadadc"></i><i style="left:138.36px;top:591.6px;width:15.17px;height:6.4px;background:#d6d6d9"></i><i style="left:153.23px;top:591.6px;width:15.17px;height:6.4px;background:#dadadb"></i><i style="left:168.10px;top:591.6px;width:15.17px;height:6.4px;background:#dbdbdd"></i><i style="left:182.97px;top:591.6px;width:15.17px;height:6.4px;background:#d6d6d8"></i><i style="left:197.84px;top:591.6px;width:15.17px;height:6.4px;background:#d0d0d1"></i><i style="left:212.71px;top:591.6px;width:15.17px;height:6.4px;background:#dadbdc"></i><i style="left:227.58px;top:591.6px;width:15.17px;height:6.4px;background:#d7dadc"></i><i style="left:242.45px;top:591.6px;width:15.17px;height:6.4px;background:#e6e6e6"></i><i style="left:257.32px;top:591.6px;width:15.17px;height:6.4px;background:#f3f4f4"></i><i style="left:272.19px;top:591.6px;width:15.17px;height:6.4px;background:#e9e8e8"></i><i style="left:287.06px;top:591.6px;width:9.50px;height:6.4px;background:#fcfcfc"></i><i style="left:17.60px;top:597.9px;width:15.17px;height:13.3px;background:#f1f4fa"></i><i style="left:32.47px;top:597.9px;width:15.17px;height:13.3px;background:#e9edf8"></i><i style="left:47.34px;top:597.9px;width:15.17px;height:13.3px;background:#eff2f9"></i><i style="left:62.21px;top:597.9px;width:15.17px;height:13.3px;background:#f0f2f9"></i><i style="left:77.08px;top:597.9px;width:15.17px;height:13.3px;background:#ebeff8"></i><i style="left:91.95px;top:597.9px;width:15.17px;height:13.3px;background:#eceff9"></i><i style="left:106.82px;top:597.9px;width:15.17px;height:13.3px;background:#f4f5fb"></i><i style="left:121.69px;top:597.9px;width:15.17px;height:13.3px;background:#e9eef8"></i><i style="left:136.56px;top:597.9px;width:15.17px;height:13.3px;background:#eef1f9"></i><i style="left:151.43px;top:597.9px;width:15.17px;height:13.3px;background:#e6ebf6"></i><i style="left:166.30px;top:597.9px;width:15.17px;height:13.3px;background:#f0f2fa"></i><i style="left:181.17px;top:597.9px;width:15.17px;height:13.3px;background:#ebeef8"></i><i style="left:196.04px;top:597.9px;width:15.17px;height:13.3px;background:#eceff9"></i><i style="left:210.91px;top:597.9px;width:15.17px;height:13.3px;background:#f0f3fa"></i><i style="left:225.78px;top:597.9px;width:15.17px;height:13.3px;background:#eef2fa"></i><i style="left:240.65px;top:597.9px;width:15.17px;height:13.3px;background:#f5f6fb"></i><i style="left:17.60px;top:611.1px;width:15.17px;height:14.5px;background:#fafbfd"></i><i style="left:32.47px;top:611.1px;width:15.17px;height:14.5px;background:#eceffa"></i><i style="left:47.34px;top:611.1px;width:15.17px;height:14.5px;background:#f3f5fb"></i><i style="left:62.21px;top:611.1px;width:15.17px;height:14.5px;background:#f4f5fb"></i><i style="left:77.08px;top:611.1px;width:15.17px;height:14.5px;background:#f5f6fc"></i><i style="left:91.95px;top:611.1px;width:15.17px;height:14.5px;background:#f5f6fc"></i><i style="left:106.82px;top:611.1px;width:15.17px;height:14.5px;background:#f3f5fb"></i><i style="left:121.69px;top:611.1px;width:15.17px;height:14.5px;background:#f2f4fb"></i><i style="left:136.56px;top:611.1px;width:15.17px;height:14.5px;background:#f1f3fa"></i><i style="left:151.43px;top:611.1px;width:15.17px;height:14.5px;background:#f1f3fa"></i><i style="left:166.30px;top:611.1px;width:15.17px;height:14.5px;background:#f4f5fb"></i><i style="left:181.17px;top:611.1px;width:15.17px;height:14.5px;background:#f3f5fb"></i><i style="left:196.04px;top:611.1px;width:15.17px;height:14.5px;background:#f4f5fb"></i><i style="left:210.91px;top:611.1px;width:15.17px;height:14.5px;background:#eaeffa"></i><i style="left:225.78px;top:611.1px;width:15.17px;height:14.5px;background:#ebeffa"></i><i style="left:240.65px;top:611.1px;width:15.17px;height:14.5px;background:#f2f4fb"></i><i style="left:255.52px;top:611.1px;width:15.17px;height:14.5px;background:#f6f7fc"></i></div>
<div class="px" style="left:0;top:633px;width:1598px;height:14px;background:#fff"></div>
</body></html>
